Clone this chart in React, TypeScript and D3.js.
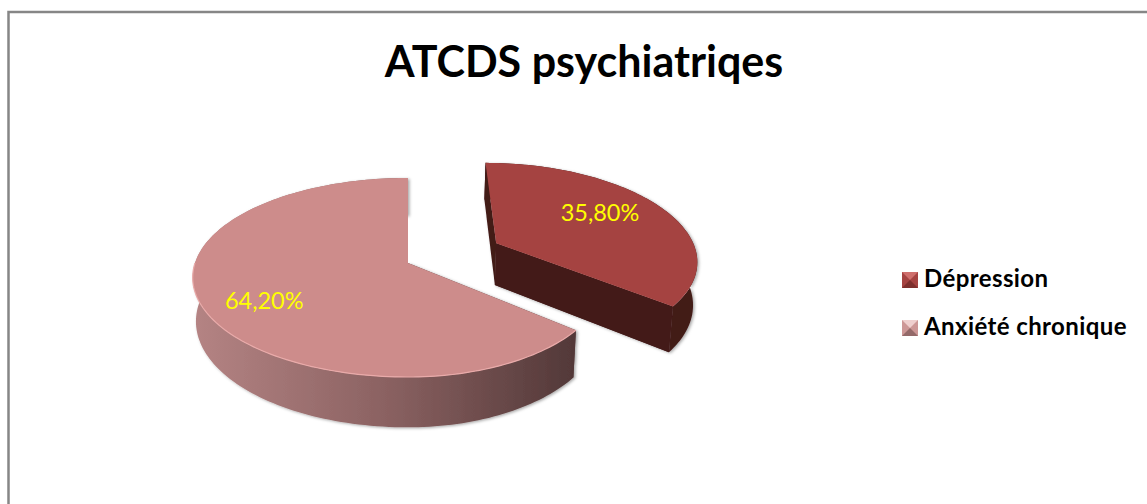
import * as d3 from "d3";

const categories = ["Dépression", "Anxiété chronique"];
const values = [35.8, 64.2];
const valueLabels = ["35,80%", "64,20%"];
const chartTitle = "ATCDS psychiatriqes";

const WIDTH = 1147;
const HEIGHT = 504;

// pseudo 3D projection of the unit disc, tuned against the picture
const cx = 408;
const cy = 263;
const kxLeft = 213;
const kxRight = [203, 196];
const ky = 97.4;
const persp = 0.1457;
const depth = 43;
const shrink = 0.985;
const explode = [0.485, 0];
const shiftX = [2, 0];
const labelRadius = [0.675, 0.735];
const labelTurn = [-6, -4];

const topColors = ["#a54341", "#cd8c8b"];
const wallColors = ["#431a18", "#5a3c3c"];
const legendColors = [
  { light: "#cf6f6c", mid: "#a54341", dark: "#7d2f2d" },
  { light: "#efcfce", mid: "#cd9796", dark: "#946a69" },
];

type P = [number, number];

function project(i: number, u: number, v: number, low = false): P {
  const w = 1 - persp * v;
  const x = ((u < 0 ? kxLeft : kxRight[i]) * u) / w;
  const y = (ky * v) / w;
  if (!low) return [cx + shiftX[i] + x, cy + y];
  return [cx + shiftX[i] + x * shrink, cy + y + depth / w];
}

const pie = d3
  .pie<number>()
  .sort(null)
  .value((d) => d);

const line = d3
  .line<P>()
  .x((d) => d[0])
  .y((d) => d[1]);

function offset(i: number, mid: number): P {
  return [explode[i] * Math.sin(mid), -explode[i] * Math.cos(mid)];
}

function rim(i: number, a0: number, a1: number, off: P, low = false): P[] {
  const n = Math.max(2, Math.ceil((a1 - a0) * 40));
  return d3
    .range(n + 1)
    .map((k) => a0 + ((a1 - a0) * k) / n)
    .map((a) => project(i, off[0] + Math.sin(a), off[1] - Math.cos(a), low));
}

export default function App() {
  const arcs = pie(values);
  const legendY = d3.scalePoint<string>().domain(categories).range([280, 328]);

  const slices = arcs.map((a, i) => {
    const mid = (a.startAngle + a.endAngle) / 2;
    const off = offset(i, mid);
    const apexTop = project(i, off[0], off[1]);
    const apexLow = project(i, off[0], off[1], true);
    const topRim = rim(i, a.startAngle, a.endAngle, off);
    const lowRim = rim(i, a.startAngle, a.endAngle, off, true);
    const top = line([apexTop, ...topRim]) + "Z";
    const band = line([...topRim, ...lowRim.slice().reverse()]) + "Z";
    const wallA = line([apexTop, topRim[0], lowRim[0], apexLow]) + "Z";
    const wallB =
      line([apexTop, topRim[topRim.length - 1], lowRim[lowRim.length - 1], apexLow]) + "Z";
    const r = labelRadius[i];
    const turn = mid + (labelTurn[i] * Math.PI) / 180;
    const labelAt = project(i, off[0] + r * Math.sin(turn), off[1] - r * Math.cos(turn));
    return { i, top, band, wallA, wallB, labelAt, a, off };
  });

  const pink = slices[1];
  const highlight = line(rim(1, pink.a.startAngle, Math.PI * 1.5, pink.off));

  return (
    <svg
      width={WIDTH}
      height={HEIGHT}
      viewBox={`0 0 ${WIDTH} ${HEIGHT}`}
      style={{ position: "absolute", left: 0, top: 0, display: "block", background: "#fff" }}
    >
      <defs>
        <linearGradient id="pinkSide" gradientUnits="userSpaceOnUse" x1={192} x2={576} y1={0} y2={0}>
          <stop offset="0" stopColor="#b58484" />
          <stop offset="0.5" stopColor="#8b6262" />
          <stop offset="1" stopColor="#523838" />
        </linearGradient>
        <filter id="soft" x="-5%" y="-5%" width="110%" height="110%">
          <feDropShadow dx={1.5} dy={1} stdDeviation={1.5} floodColor="#000" floodOpacity={0.35} />
        </filter>
      </defs>

      <path d="M8.5,504V12H1147" fill="none" stroke="#868686" strokeWidth={2.5} />

      <text
        x={584}
        y={77}
        textAnchor="middle"
        fontFamily="Lato"
        fontWeight={700}
        fontSize={43}
        fill="#000"
      >
        {chartTitle}
      </text>

      {slices.map((s) => (
        <g key={s.i}>
          <g filter="url(#soft)">
            <path d={s.wallA} fill={wallColors[s.i]} />
            <path d={s.wallB} fill={wallColors[s.i]} />
            <path d={s.band} fill={s.i === 1 ? "url(#pinkSide)" : wallColors[s.i]} />
          </g>
          {s.i === 0 && <path d={s.wallB} fill={wallColors[0]} />}
          <path d={s.top} fill={topColors[s.i]} />
        </g>
      ))}
      <path d={highlight ?? ""} fill="none" stroke="#e9aaa9" strokeWidth={1.2} />

      {slices.map((s) => (
        <text
          key={s.i}
          x={s.labelAt[0]}
          y={s.labelAt[1]}
          dy="0.35em"
          textAnchor="middle"
          fontFamily="Lato"
          fontSize={23.5}
          fill="#ffff00"
        >
          {valueLabels[s.i]}
        </text>
      ))}

      {categories.map((c, i) => {
        const y = legendY(c) ?? 0;
        const x0 = 902;
        const size = 16;
        const y0 = y - size / 2;
        const col = legendColors[i];
        return (
          <g key={c}>
            <rect x={x0} y={y0} width={size} height={size} fill={col.mid} />
            <path
              d={`M${x0},${y0}H${x0 + size}L${x0 + size / 2},${y0 + size / 2}Z`}
              fill={col.light}
            />
            <path
              d={`M${x0},${y0 + size}H${x0 + size}L${x0 + size / 2},${y0 + size / 2}Z`}
              fill={col.dark}
            />
            <text
              x={924}
              y={y + 7}
              fontFamily="Lato"
              fontWeight={700}
              fontSize={24}
              letterSpacing={0.4}
              fill="#000"
            >
              {c}
            </text>
          </g>
        );
      })}
    </svg>
  );
}
